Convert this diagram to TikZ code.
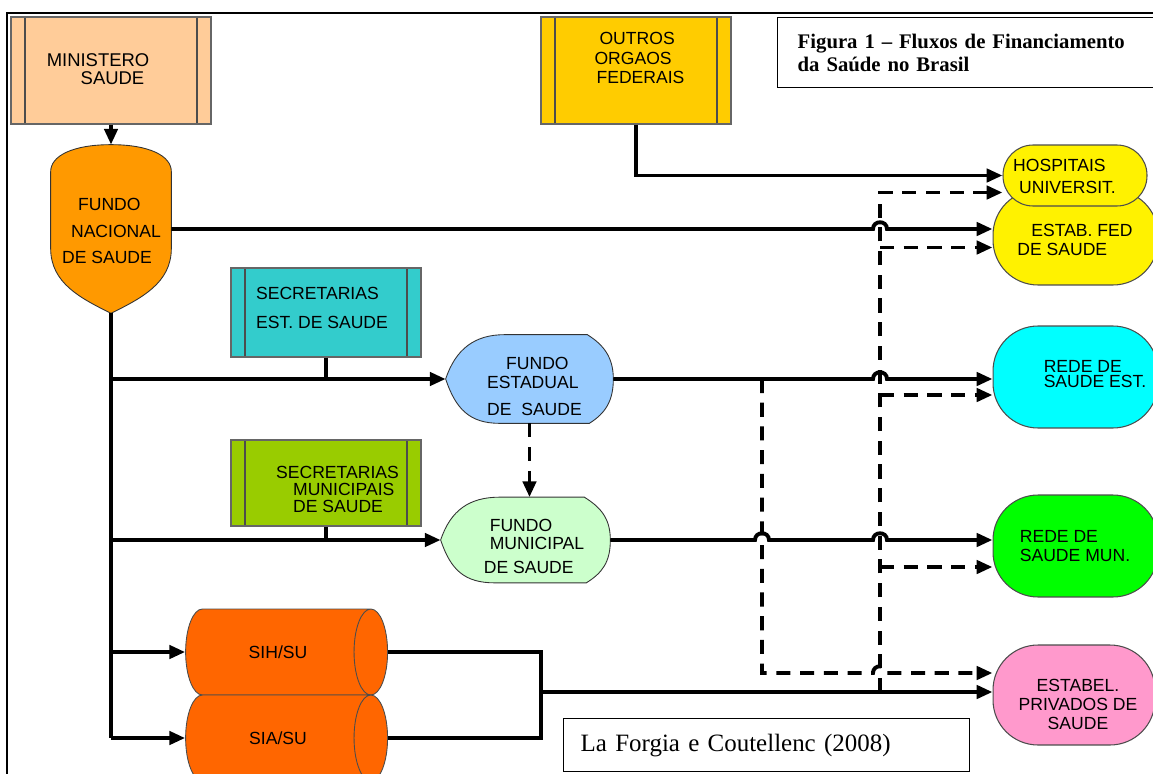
\documentclass[tikz,border=0pt]{standalone}
\usepackage{fontspec}
\setmainfont{Liberation Serif}
\setsansfont{Liberation Sans}
\usetikzlibrary{arrows.meta,shapes.geometric,backgrounds,calc}

\definecolor{peach}{HTML}{FFCC99}
\definecolor{fnorange}{HTML}{FF9900}
\definecolor{seccyan}{HTML}{33CCCC}
\definecolor{secgreen}{HTML}{99CC00}
\definecolor{fundoblue}{HTML}{99CCFF}
\definecolor{fundogreen}{HTML}{CCFFCC}
\definecolor{outrosgold}{HTML}{FFCC00}
\definecolor{sihorange}{HTML}{FF6600}
\definecolor{redecyan}{HTML}{00FFFF}
\definecolor{redegreen}{HTML}{00FF00}
\definecolor{privpink}{HTML}{FF99CC}

\begin{document}
\begin{tikzpicture}[x=0.02cm, y=-0.02cm,
  lbl/.style={font=\sffamily\fontsize{10}{#1}\selectfont, align=left, inner sep=0pt},
  lbl/.default=12,
  orgbox/.style={draw=black!60, line width=0.6pt, inner sep=0pt,
    path picture={\draw[black!70, line width=0.6pt]
      ([xshift=0.28cm]path picture bounding box.north west) -- ([xshift=0.28cm]path picture bounding box.south west)
      ([xshift=-0.28cm]path picture bounding box.north east) -- ([xshift=-0.28cm]path picture bounding box.south east);}},
  rede/.style={draw=black!70, line width=0.6pt, rounded corners=0.9cm, minimum width=3.3cm, minimum height=2.04cm, inner sep=0pt},
  sistema/.style={cylinder, draw=black!70, line width=0.5pt, fill=sihorange, minimum width=1.72cm, minimum height=4.04cm, aspect=2.6, lbl},
  flowline/.style={line width=2.2pt},
  flowarrow/.style={flowline, -{Triangle[length=9pt,width=7.5pt]}},
  dashline/.style={flowline, dash pattern=on 8pt off 5.5pt},
  dasharrow/.style={dashline, -{Triangle[length=9pt,width=7.5pt]}}]
\useasboundingbox (0,0) rectangle (1153,774);

% moldura
\draw[line width=1.1pt] (7,790) -- (7,13) -- (1170,13);

% caixas de origem
\node[orgbox, fill=peach, minimum width=4cm, minimum height=2.14cm] (min) at (111,70.5) {};
\node[orgbox, fill=outrosgold, minimum width=3.8cm, minimum height=2.14cm] (outros) at (636,70.5) {};
\node[orgbox, fill=seccyan, minimum width=3.8cm, minimum height=1.78cm] (sest) at (326,312.5) {};
\node[orgbox, fill=secgreen, minimum width=3.8cm, minimum height=1.72cm] (smun) at (326,483) {};

% fundos (contorno desenhado no fundo)
\node[minimum width=2.4cm, minimum height=3.36cm, inner sep=0pt] (fnac) at (111,229) {};
\node[minimum width=3.34cm, minimum height=1.76cm, inner sep=0pt] (fest) at (529.5,379) {};
\node[minimum width=3.38cm, minimum height=1.7cm, inner sep=0pt] (fmun) at (525.5,540) {};

\begin{scope}[on background layer]
\filldraw[fill=fnorange, draw=black!80, line width=0.5pt]
  (fnac.north) .. controls +(-38,0) and +(0,-16) .. ($(fnac.north west)+(0,27)$)
  -- ($(fnac.south west)+(0,-65)$) .. controls +(0,35) and +(-30,-15) .. (fnac.south)
  .. controls +(30,-15) and +(0,35) .. ($(fnac.south east)+(0,-65)$)
  -- ($(fnac.north east)+(0,27)$) .. controls +(0,-16) and +(38,0) .. (fnac.north) -- cycle;
\foreach \n/\c in {fest/fundoblue, fmun/fundogreen}{
  \filldraw[fill=\c, draw=black!80, line width=0.5pt]
    (\n.west) .. controls +(10,-30) and +(-30,0) .. ($(\n.north west)+(59,0)$)
    -- ($(\n.north east)+(-26,0)$) .. controls +(16,10) and +(0,-22) .. (\n.east)
    .. controls +(0,22) and +(16,-10) .. ($(\n.south east)+(-24,0)$)
    -- ($(\n.south west)+(54,0)$) .. controls +(-30,0) and +(10,30) .. (\n.west) -- cycle;
}
\end{scope}

% sistemas
\node[sistema] (sih) at (278,652) {SIH/SU};
\node[sistema] (sia) at (278,738) {SIA/SU};

% destinos
\node[rede, fill=yellow, minimum height=1.9cm] (efed) at (1075.5,237.5) {};
\node[rede, fill=yellow, minimum width=2.88cm, minimum height=1.22cm, rounded corners=0.6cm] (hosp) at (1075,175.5) {};
\node[rede, fill=redecyan] (rest) at (1075.5,377) {};
\node[rede, fill=redegreen] (rmun) at (1075.5,546) {};
\node[rede, fill=privpink, minimum width=3.24cm, minimum height=2cm] (priv) at (1074,695) {};

% textos
\node[lbl, font=\sffamily\fontsize{10.5}{10.2}\selectfont] (min-t) at (98,69) {MINISTERO\\\hspace*{0.68cm}SAUDE};
\node[lbl=11.3] (outros-t) at (639.5,58) {\hspace*{0.1cm}OUTROS\\ORGAOS\\\hspace*{0.04cm}FEDERAIS};
\node[lbl=15.3] (fnac-t) at (111.5,231) {\hspace*{0.32cm}FUNDO\\\hspace*{0.18cm}NACIONAL\\DE SAUDE};
\node[lbl=17] (sest-t) at (322,308) {SECRETARIAS\\EST. DE SAUDE};
\node[lbl=9.9] (smun-t) at (337.5,489.5) {SECRETARIAS\\\hspace*{0.34cm}MUNICIPAIS\\\hspace*{0.34cm}DE SAUDE};
\node[lbl=10.8] (fest-t) at (534.5,386.5) {\hspace*{0.38cm}FUNDO\\ESTADUAL\\[5pt]DE~~SAUDE};
\node[lbl=10.2] (fmun-t) at (534,546.5) {\hspace*{0.12cm}FUNDO\\\hspace*{0.12cm}MUNICIPAL\\[4pt]DE SAUDE};
\node[lbl=12.5] (hosp-t) at (1064.5,176) {HOSPITAIS\\\hspace*{0.12cm}UNIVERSIT.};
\node[lbl=11.3] (efed-t) at (1075,240) {\hspace*{0.28cm}ESTAB. FED\\DE SAUDE};
\node[lbl=8.5] (rest-t) at (1095,374.5) {REDE DE\\SAUDE EST.};
\node[lbl=11.3] (rmun-t) at (1075,546) {REDE DE\\SAUDE MUN.};
\node[lbl=11, align=center] (priv-t) at (1078,704.5) {ESTABEL.\\PRIVADOS DE\\SAUDE};

\node[draw, line width=0.8pt, anchor=north west, text width=6.86cm, inner xsep=0.4cm, inner ysep=0pt,
  minimum height=1.4cm, align=left, font=\bfseries\fontsize{11.8}{13}\selectfont] (title) at (777,17)
  {Figura 1 – Fluxos de Financiamento\\da Saúde no Brasil};
\node[draw, line width=0.8pt, anchor=north west, text width=7.44cm, inner xsep=0.34cm, inner ysep=0pt,
  minimum height=1.06cm, align=left, font=\fontsize{14.2}{16}\selectfont] (fonte) at (563,718)
  {La Forgia e Coutellenc (2008)};

% pontos de juncao
\coordinate (jn) at (541,692);
\coordinate (bus) at (880,692);
\coordinate (va) at (762,673);

% fluxos tracejados
\draw[dasharrow] (bus) -- ($(bus |- hosp.west)+(0,17)$) -- ($(hosp.west)+(0,17)$);
\foreach \n/\d in {efed/10, rest/18, rmun/21}
  \draw[dasharrow] ($(bus |- \n.west)+(0,\d)$) -- ($(\n.west)+(0,\d)$);
\draw[dasharrow] (fest.east -| va) -- (va) -- ($(va -| bus)+(-7,0)$)
  .. controls +(0,-9) and +(0,-9) .. ++(14,0) -- (va -| priv.west);
\draw[dasharrow] (fest.south) -- (fest.south |- fmun.north);

% fluxos solidos
\draw[flowarrow] (min) -- (fnac.north);
\draw[flowarrow] (outros.south) -- (outros.south |- hosp.west) -- (hosp.west);
\draw[flowarrow] (fnac.east) -- ($(fnac.east -| bus)+(-7,0)$)
  .. controls +(0,-9) and +(0,-9) .. ++(14,0) -- (fnac.east -| efed.west);
\draw[flowline] (fnac.south) -- (fnac.south |- sia.west);
\foreach \n in {fest, fmun, sih, sia}
  \draw[flowarrow] (fnac.south |- \n.west) -- (\n.west);
\draw[flowline] (sest.south) -- (sest.south |- fest.west);
\draw[flowline] (smun.south) -- (smun.south |- fmun.west);
\draw[flowarrow] (fest.east) -- ($(fest.east -| bus)+(-7,0)$)
  .. controls +(0,-9) and +(0,-9) .. ++(14,0) -- (fest.east -| rest.west);
\draw[flowarrow] (fmun.east) -- ($(fmun.east -| va)+(-7,0)$)
  .. controls +(0,-9) and +(0,-9) .. ++(14,0) -- ($(fmun.east -| bus)+(-7,0)$)
  .. controls +(0,-9) and +(0,-9) .. ++(14,0) -- (fmun.east -| rmun.west);
\draw[flowline] (sih.east) -- (sih.east -| jn) -- (sia.east -| jn) -- (sia.east);
\draw[flowarrow] (jn) -- (jn -| priv.west);

\end{tikzpicture}
\end{document}
